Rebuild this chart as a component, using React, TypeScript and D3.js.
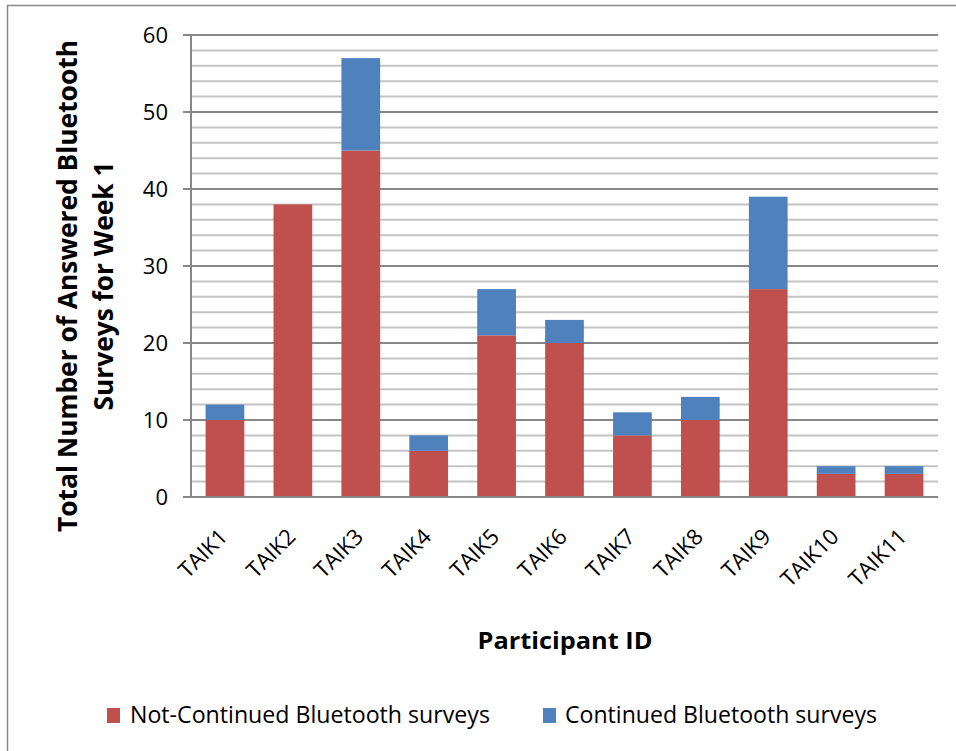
import React from "react";
import * as d3 from "d3";

// Participants and their answered Bluetooth surveys in week 1
const participants = ["TAIK1", "TAIK2", "TAIK3", "TAIK4", "TAIK5", "TAIK6", "TAIK7", "TAIK8", "TAIK9", "TAIK10", "TAIK11"];
const notContinued = [10, 38, 45, 6, 21, 20, 8, 10, 27, 3, 3];
const continued = [2, 0, 12, 2, 6, 3, 3, 3, 12, 1, 1];
const seriesNames = ["Not-Continued Bluetooth surveys", "Continued Bluetooth surveys"];
const seriesColors = ["#C0504D", "#4F81BD"];
const yTicks = [0, 10, 20, 30, 40, 50, 60];
const yTitleLines = ["Total Number of Answered Bluetooth", "Surveys for Week 1"];
const xTitle = "Participant ID";

const W = 956;
const H = 751;
const FONT = "'Open Sans', Lato, sans-serif";

export default function App() {
  const plot = { left: 191, right: 938, top: 35, bottom: 497 };

  const x = d3
    .scaleBand<string>()
    .domain(participants)
    .range([plot.left, plot.right])
    .paddingInner(0.43)
    .paddingOuter(0.215);

  const y = d3.scaleLinear().domain([0, 60]).range([plot.bottom, plot.top]);

  const rows = participants.map((p, i) => ({ p, a: notContinued[i], b: continued[i] }));
  const stacked = d3.stack<any>().keys(["a", "b"])(rows as any);

  const minorTicks = d3.range(0, 61, 2).filter((v) => v % 10 !== 0);

  return (
    <div style={{ position: "absolute", left: 0, top: 0 }}>
      <svg width={W} height={H} style={{ display: "block", background: "#fff" }}>
        {/* outer frame */}
        <path d={`M7.5,${H} V5.5 H${W}`} fill="none" stroke="#8a8a8a" strokeWidth={1.5} />

        {/* minor gridlines */}
        {minorTicks.map((v) => (
          <line key={"m" + v} x1={plot.left} x2={plot.right} y1={y(v)} y2={y(v)} stroke="#c4c4c4" strokeWidth={2} />
        ))}
        {/* major gridlines */}
        {yTicks.filter((v) => v > 0).map((v) => (
          <line key={"g" + v} x1={plot.left - 8} x2={plot.right} y1={y(v)} y2={y(v)} stroke="#878787" strokeWidth={2} />
        ))}

        {/* stacked bars */}
        {stacked.map((layer, si) =>
          layer.map((d: any, i: number) => {
            const h = y(d[0]) - y(d[1]);
            if (h <= 0) return null;
            return (
              <rect
                key={si + "-" + i}
                x={x(participants[i])}
                y={y(d[1])}
                width={x.bandwidth()}
                height={h}
                fill={seriesColors[si]}
              />
            );
          })
        )}

        {/* axes */}
        <line x1={plot.left} x2={plot.left} y1={plot.top - 1} y2={plot.bottom} stroke="#878787" strokeWidth={2} />
        <line x1={plot.left - 8} x2={plot.right} y1={plot.bottom} y2={plot.bottom} stroke="#878787" strokeWidth={2} />

        {/* y tick labels */}
        {yTicks.map((v) => (
          <text key={"t" + v} x={168} y={y(v)} dy="0.36em" textAnchor="end" fontFamily={FONT} fontSize={22} fill="#000">
            {v}
          </text>
        ))}

        {/* x tick labels */}
        {participants.map((p) => {
          const cx = (x(p) as number) + x.bandwidth() / 2 + 4;
          const cy = plot.bottom + 41;
          return (
            <text
              key={p}
              transform={`translate(${cx},${cy}) rotate(-45)`}
              textAnchor="end"
              fontFamily={FONT}
              fontSize={22}
              fill="#000"
            >
              {p}
            </text>
          );
        })}

        {/* axis titles */}
        <text x={565} y={649} textAnchor="middle" fontFamily={FONT} fontWeight="bold" fontSize={23} fill="#000"
          textLength={175} lengthAdjust="spacingAndGlyphs">
          {xTitle}
        </text>
        <g transform="translate(77,286) rotate(-90)">
          <text x={0} y={0} textAnchor="middle" fontFamily={FONT} fontWeight="bold" fontSize={26} fill="#000"
            textLength={492} lengthAdjust="spacingAndGlyphs">
            {yTitleLines[0]}
          </text>
          <text x={0} y={36} textAnchor="middle" fontFamily={FONT} fontWeight="bold" fontSize={26} fill="#000"
            textLength={249} lengthAdjust="spacingAndGlyphs">
            {yTitleLines[1]}
          </text>
        </g>

        {/* legend */}
        {[
          { sx: 107, tx: 130, len: 360 },
          { sx: 543, tx: 565, len: 312 },
        ].map((l, i) => (
          <g key={"lg" + i}>
            <rect x={l.sx} y={708} width={13} height={15} fill={seriesColors[i]} />
            <text x={l.tx} y={723} fontFamily={FONT} fontSize={23} fill="#000"
              textLength={l.len} lengthAdjust="spacingAndGlyphs">
              {seriesNames[i]}
            </text>
          </g>
        ))}
      </svg>
    </div>
  );
}
